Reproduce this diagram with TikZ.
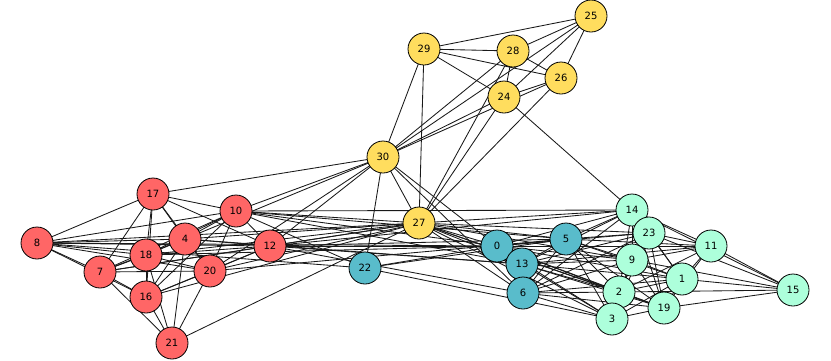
\documentclass[tikz,border=0pt]{standalone}
\usepackage{fontspec}
\setmainfont{DejaVu Sans}
\definecolor{cred}{HTML}{FF6666}
\definecolor{cyel}{HTML}{FFDD5E}
\definecolor{cblu}{HTML}{59BCCB}
\definecolor{cgrn}{HTML}{ADFFDB}
\begin{document}
\begin{tikzpicture}[x=1pt,y=-1pt,
  vtx/.style={circle,draw=black,line width=0.8pt,minimum size=32pt,inner sep=0pt,font=\fontsize{10}{11}\selectfont},
  rv/.style={vtx,fill=cred}, yv/.style={vtx,fill=cyel}, bv/.style={vtx,fill=cblu}, gv/.style={vtx,fill=cgrn},
  edge/.style={black!90,line width=0.85pt}]
\useasboundingbox (0,0) rectangle (831,360);
% positions
\coordinate (p25) at (591,16);
\coordinate (p29) at (424,49);
\coordinate (p28) at (513,51);
\coordinate (p26) at (561,78);
\coordinate (p24) at (504,97);
\coordinate (p30) at (383,157);
\coordinate (p17) at (153,194);
\coordinate (p10) at (236,211);
\coordinate (p14) at (632,210);
\coordinate (p27) at (419,223);
\coordinate (p23) at (649,233);
\coordinate (p5) at (566,239);
\coordinate (p8) at (37,243);
\coordinate (p4) at (185,239);
\coordinate (p12) at (270,246);
\coordinate (p0) at (497,246);
\coordinate (p11) at (711,246);
\coordinate (p18) at (146,255);
\coordinate (p7) at (100,272);
\coordinate (p20) at (210,271);
\coordinate (p22) at (365,268);
\coordinate (p9) at (632,260);
\coordinate (p13) at (522,264);
\coordinate (p1) at (682,279);
\coordinate (p15) at (793,290);
\coordinate (p16) at (146,297);
\coordinate (p6) at (523,293);
\coordinate (p2) at (619,292);
\coordinate (p19) at (664,308);
\coordinate (p3) at (612,319);
\coordinate (p21) at (172,343);
% edges
\foreach \a/\b in {
29/25,29/28,29/26,29/24,29/30,29/27,28/25,28/26,28/24,28/30,28/27,25/24,25/26,25/30,
26/24,26/30,26/27,24/30,24/27,24/14,30/27,30/22,30/0,30/6,30/17,30/10,30/4,30/12,30/20,
27/10,27/12,27/8,27/18,27/4,27/20,27/16,27/7,27/21,27/0,27/5,27/13,27/6,27/14,27/9,27/2,27/3,27/19,27/23,
22/0,22/5,22/10,22/8,22/3,
8/17,8/10,8/7,8/18,8/4,8/20,8/12,8/16,8/0,
17/18,17/4,17/10,17/7,17/16,17/12,17/20,
10/18,10/4,10/16,10/20,10/12,10/7,10/0,10/5,10/13,10/14,
7/18,7/16,7/21,7/4,7/20,7/12,
18/16,18/4,18/20,18/21,18/12,18/0,
4/16,4/20,4/21,4/12,4/13,
16/20,16/21,16/12,
20/21,20/12,20/5,
12/0,12/13,12/6,12/5,12/14,
0/5,0/13,0/6,0/14,0/23,0/9,0/2,0/3,0/1,0/19,0/11,
5/13,5/6,5/14,5/23,5/9,5/2,5/3,5/1,5/19,5/11,
13/6,13/14,13/23,13/9,13/2,13/3,13/1,13/19,13/11,
6/14,6/23,6/9,6/2,6/3,6/1,6/19,
14/23,14/9,14/2,14/11,14/15,14/1,14/19,
23/9,23/11,23/15,23/1,23/2,23/19,23/3,
9/2,9/1,9/11,9/19,9/3,9/15,
2/3,2/19,2/1,2/11,2/15,
1/11,1/19,1/15,1/3,
19/3,19/15,19/11,11/15}
  \draw[edge] (p\a) -- (p\b);
% nodes
\foreach \n in {25,29,28,26,24,30,27}
  \node[yv] (n\n) at (p\n) {\n};
\foreach \n in {17,10,8,4,12,18,7,20,16,21}
  \node[rv] (n\n) at (p\n) {\n};
\foreach \n in {0,5,13,6,22}
  \node[bv] (n\n) at (p\n) {\n};
\foreach \n in {14,23,11,9,1,15,2,19,3}
  \node[gv] (n\n) at (p\n) {\n};
\end{tikzpicture}
\end{document}
